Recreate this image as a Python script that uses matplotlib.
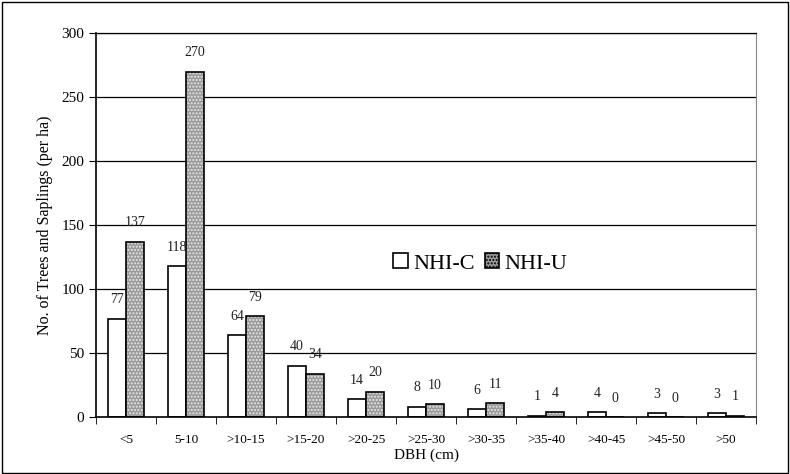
import matplotlib.pyplot as plt
import numpy as np
from matplotlib.patches import Rectangle, Patch

plt.rcParams['font.family'] = ['Liberation Serif', 'DejaVu Serif']

categories = ['<5', '5-10', '>10-15', '>15-20', '>20-25', '>25-30', '>30-35',
              '>35-40', '>40-45', '>45-50', '>50']
nhi_c = [77, 118, 64, 40, 14, 8, 6, 1, 4, 3, 3]
nhi_u = [137, 270, 79, 34, 20, 10, 11, 4, 0, 0, 1]

fig = plt.figure(figsize=(7.9, 4.74), dpi=100)
ax = fig.add_axes([0.1215, 0.120, 0.8355, 0.810])

x = np.arange(len(categories))
w = 0.3

# gridlines
for yv in range(50, 301, 50):
    ax.axhline(yv, color='black', lw=0.9, zorder=0)

ax.bar(x - w / 2, nhi_c, w, color='white', edgecolor='black', lw=1.2, zorder=2)
# dotted grey fill, then a black outline on top
ax.bar(x + w / 2, nhi_u, w, color='#9a9a9a', edgecolor='#e8e8e8', hatch='.....', lw=0, zorder=2)
ax.bar(x + w / 2, nhi_u, w, color='none', edgecolor='black', lw=1.2, zorder=3)

for xi, v in zip(x, nhi_c):
    ax.annotate(str(v), (xi - w / 2, v), xytext=(0, 9), textcoords='offset points',
                ha='center', va='bottom', fontsize=10, color='#222222')
for xi, v in zip(x, nhi_u):
    ax.annotate(str(v), (xi + w / 2, v), xytext=(0, 9), textcoords='offset points',
                ha='center', va='bottom', fontsize=10, color='#222222')

# legend handles
h1 = Patch(facecolor='white', edgecolor='black', lw=1.2)
h2 = Patch(facecolor='#9a9a9a', edgecolor='black', hatch='.....', lw=1.2)
ax.legend([h1, h2], ['NHI-C', 'NHI-U'], ncol=2, frameon=False, fontsize=16,
          loc='center left', bbox_to_anchor=(0.42, 0.40), handlelength=0.65,
          handleheight=0.65, handletextpad=0.25, columnspacing=0.45)

ax.set_xlim(-0.5, len(categories) - 0.5)
ax.set_ylim(0, 300)
ax.set_yticks(range(0, 301, 50))
ax.set_xticks(x)
ax.set_xticklabels(categories, fontsize=9.5)
ax.tick_params(axis='x', length=0, pad=12)
ax.set_xticks(np.arange(-0.5, len(categories)), minor=True)
ax.tick_params(axis='x', which='minor', length=5, direction='out')
ax.tick_params(axis='y', labelsize=11, length=5, direction='out')

for s in ['left', 'bottom']:
    ax.spines[s].set_linewidth(1.2)
ax.spines['top'].set_linewidth(0.9)
ax.spines['right'].set_color('#888888')

ax.set_xlabel('DBH (cm)', fontsize=11, labelpad=2)
ax.set_ylabel('No. of Trees and Saplings (per ha)', fontsize=11.5, labelpad=6)

fig.patches.append(Rectangle((0.003, 0.003), 0.994, 0.993, transform=fig.transFigure,
                             fill=False, edgecolor='black', lw=1))

fig.savefig('out.png', dpi=100)
